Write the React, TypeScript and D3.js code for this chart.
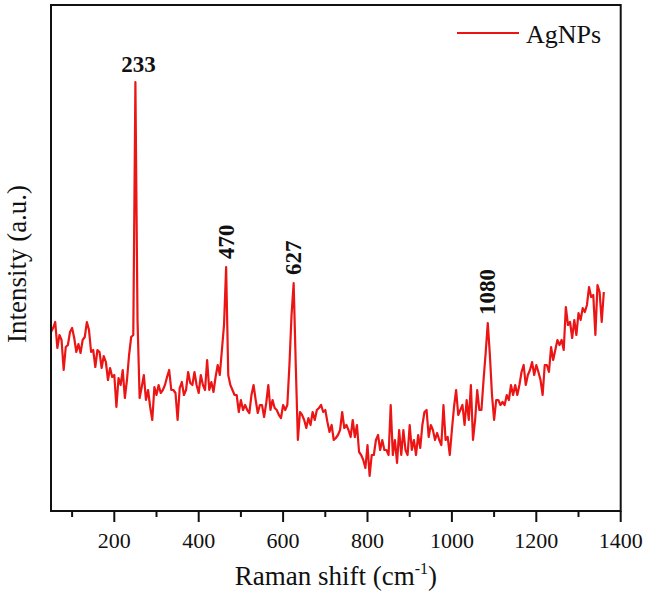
import React from "react";
import * as d3 from "d3";

// Raman spectrum of AgNPs, sampled every 5 cm-1 from 50 to 1360 cm-1
const SHIFT_START = 50;
const SHIFT_STEP = 5;
const INTENSITY = [
  184, 188, 194, 168, 181, 176, 146, 169, 171, 184, // 50-95
  188, 178, 164, 172, 163, 176, 179, 194, 186, 164, // 100-145
  166, 149, 166, 164, 148, 160, 154, 136, 148, 139, // 150-195
  141, 109, 138, 131, 146, 118, 136, 161, 179, 181, // 200-245
  434, 196, 118, 129, 141, 116, 126, 109, 96, 129, // 250-295
  121, 131, 123, 126, 131, 139, 146, 126, 126, 123, // 300-345
  96, 128, 134, 121, 126, 144, 133, 131, 144, 131, // 350-395
  123, 141, 131, 126, 156, 126, 134, 124, 139, 151, // 400-445
  141, 166, 191, 249, 141, 131, 126, 121, 121, 104, // 450-495
  116, 106, 111, 106, 103, 121, 131, 116, 103, 111, // 500-545
  111, 99, 113, 131, 106, 116, 108, 106, 101, 98, // 550-595
  111, 106, 111, 151, 201, 233, 151, 76, 104, 101, // 600-645
  96, 88, 98, 91, 104, 96, 106, 108, 111, 104, // 650-695
  106, 94, 84, 91, 76, 78, 81, 86, 104, 88, // 700-745
  91, 86, 79, 96, 79, 91, 64, 61, 56, 48, // 750-795
  71, 40, 61, 61, 76, 81, 66, 76, 66, 66, // 800-845
  61, 111, 61, 76, 53, 86, 61, 86, 66, 61, // 850-895
  91, 66, 76, 61, 81, 68, 91, 104, 106, 79, // 900-945
  91, 86, 76, 83, 76, 71, 111, 76, 79, 61, // 950-995
  86, 109, 126, 101, 106, 111, 91, 116, 96, 131, // 1000-1045
  76, 96, 126, 106, 106, 136, 163, 193, 161, 121, // 1050-1095
  96, 116, 116, 111, 114, 111, 121, 116, 131, 121, // 1100-1145
  131, 121, 131, 144, 151, 131, 141, 146, 154, 141, // 1150-1195
  151, 144, 136, 121, 151, 151, 144, 169, 156, 166, // 1200-1245
  176, 171, 176, 166, 209, 191, 194, 178, 196, 181, // 1250-1295
  203, 196, 208, 204, 211, 229, 219, 221, 181, 231, // 1300-1345
  224, 194, 224, // 1350-1360
];

const X_DOMAIN = [50, 1400];
const Y_DOMAIN = [5, 511];
const X_TICKS_MAJOR = [200, 400, 600, 800, 1000, 1200, 1400];
const X_TICKS_MINOR = [100, 300, 500, 700, 900, 1100, 1300];

const PEAK_LABELS = ["233", "470", "627", "1080"];
const PEAK_SHIFTS = [250, 465, 625, 1085];
const PEAK_ROTATED = [false, true, true, true];

const SERIES_NAME = "AgNPs";
const X_TITLE = "Raman shift (cm";
const X_TITLE_SUP = "-1";
const Y_TITLE = "Intensity (a.u.)";

const W = 645;
const H = 597;
const PLOT = { left: 51, right: 620.7, top: 5, bottom: 511 };
const RED = "#ec1515";
const FONT = "'Liberation Serif', 'Times New Roman', serif";

export default function App() {
  const data = INTENSITY.map((v, i) => ({ x: SHIFT_START + i * SHIFT_STEP, y: v }));
  const x = d3.scaleLinear().domain(X_DOMAIN).range([PLOT.left, PLOT.right]);
  const y = d3.scaleLinear().domain(Y_DOMAIN).range([PLOT.bottom, PLOT.top]);
  const line = d3
    .line<{ x: number; y: number }>()
    .x((d) => x(d.x))
    .y((d) => y(d.y));

  const peakValue = (s: number) => {
    const idx = Math.round((s - SHIFT_START) / SHIFT_STEP);
    return INTENSITY[idx];
  };

  const cx = (PLOT.left + PLOT.right) / 2;
  const cy = (PLOT.top + PLOT.bottom) / 2;

  return (
    <svg
      width={W}
      height={H}
      style={{ position: "absolute", left: 0, top: 0, background: "#fff" }}
      fontFamily={FONT}
    >
      <rect x={0} y={0} width={W} height={H} fill="#fff" />
      <defs>
        <clipPath id="plotclip">
          <rect x={PLOT.left} y={PLOT.top} width={PLOT.right - PLOT.left} height={PLOT.bottom - PLOT.top} />
        </clipPath>
      </defs>

      <path
        d={line(data) || ""}
        fill="none"
        stroke={RED}
        strokeWidth={2.2}
        strokeLinejoin="round"
        clipPath="url(#plotclip)"
      />

      {/* frame */}
      <rect
        x={PLOT.left}
        y={PLOT.top}
        width={PLOT.right - PLOT.left}
        height={PLOT.bottom - PLOT.top}
        fill="none"
        stroke="#111"
        strokeWidth={2}
      />

      {/* x ticks */}
      {X_TICKS_MAJOR.map((t) => (
        <g key={"M" + t}>
          <line x1={x(t)} x2={x(t)} y1={PLOT.bottom} y2={PLOT.bottom + 11} stroke="#111" strokeWidth={2} />
          <text x={x(t)} y={PLOT.bottom + 37} textAnchor="middle" fontSize={22} fill="#111">
            {t}
          </text>
        </g>
      ))}
      {X_TICKS_MINOR.map((t) => (
        <line key={"m" + t} x1={x(t)} x2={x(t)} y1={PLOT.bottom} y2={PLOT.bottom + 6} stroke="#111" strokeWidth={2} />
      ))}

      {/* axis titles */}
      <text x={cx} y={585} textAnchor="middle" fontSize={27} fill="#111">
        {X_TITLE}
        <tspan fontSize={16} dy={-11}>{X_TITLE_SUP}</tspan>
        <tspan fontSize={27} dy={11}>)</tspan>
      </text>
      <text
        transform={`translate(26, ${cy + 6}) rotate(-90)`}
        textAnchor="middle"
        fontSize={27}
        fill="#111"
      >
        {Y_TITLE}
      </text>

      {/* peak labels */}
      {PEAK_LABELS.map((lab, i) => {
        const px = x(PEAK_SHIFTS[i]);
        const py = y(peakValue(PEAK_SHIFTS[i]));
        if (!PEAK_ROTATED[i]) {
          return (
            <text key={lab} x={px + 3} y={py - 10} textAnchor="middle" fontSize={23} fontWeight="bold" fill="#111">
              {lab}
            </text>
          );
        }
        return (
          <text
            key={lab}
            transform={`translate(${px}, ${py - 8}) rotate(-90)`}
            textAnchor="start"
            dominantBaseline="central"
            fontSize={23}
            fontWeight="bold"
            fill="#111"
          >
            {lab}
          </text>
        );
      })}

      {/* legend */}
      <line x1={457} x2={519} y1={33} y2={33} stroke={RED} strokeWidth={2} />
      <text x={526} y={43} fontSize={26} fill="#111">
        {SERIES_NAME}
      </text>
    </svg>
  );
}
